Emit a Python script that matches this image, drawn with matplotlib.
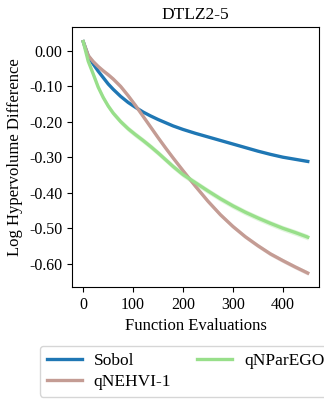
import numpy as np
import matplotlib
matplotlib.use("Agg")
import matplotlib.pyplot as plt

plt.rcParams['font.family'] = ['Liberation Serif', 'DejaVu Serif']
plt.rcParams['axes.unicode_minus'] = False

# evaluations
evals = [0, 10, 20, 30, 40, 50, 60, 75, 90, 105, 120, 135, 150, 165, 180, 200,
         225, 250, 275, 300, 325, 350, 375, 400, 425, 450]

sobol = [0.025, -0.015, -0.038, -0.058, -0.076, -0.094, -0.109, -0.129, -0.146, -0.160,
         -0.173, -0.184, -0.194, -0.203, -0.212, -0.222, -0.233, -0.243, -0.253, -0.263,
         -0.273, -0.283, -0.292, -0.300, -0.306, -0.312]
qnehvi = [0.025, -0.014, -0.031, -0.045, -0.057, -0.068, -0.080, -0.101, -0.127, -0.155,
          -0.185, -0.215, -0.245, -0.274, -0.302, -0.338, -0.382, -0.424, -0.462, -0.495,
          -0.524, -0.549, -0.572, -0.591, -0.609, -0.626]
qnparego = [0.025, -0.030, -0.066, -0.103, -0.132, -0.156, -0.176, -0.200, -0.220, -0.237,
            -0.253, -0.270, -0.288, -0.307, -0.326, -0.349, -0.372, -0.395, -0.417, -0.437,
            -0.455, -0.471, -0.486, -0.500, -0.512, -0.525]

sobol_err = 0.002
qnehvi_err = 0.006
qnparego_err = 0.008

fig = plt.figure(figsize=(3.24, 3.99), dpi=100)
ax = fig.add_axes([72 / 324, 1 - 287 / 399, 247 / 324, 260 / 399])

series = [
    ('Sobol', sobol, sobol_err, '#1f77b4'),
    ('qNEHVI-1', qnehvi, qnehvi_err, '#c49c94'),
    ('qNParEGO', qnparego, qnparego_err, '#98df8a'),
]
x = np.array(evals)
for name, vals, err, col in series:
    v = np.array(vals)
    ax.plot(x, v, color=col, lw=2.4, label=name)
    ax.fill_between(x, v - err, v + err, color=col, alpha=0.3, lw=0)

ax.set_xticks([0, 100, 200, 300, 400])
ax.set_yticks([0.0, -0.1, -0.2, -0.3, -0.4, -0.5, -0.6])
ax.yaxis.set_major_formatter(matplotlib.ticker.FormatStrFormatter('%.2f'))
ax.tick_params(labelsize=11.5)
ax.set_xlabel('Function Evaluations', fontsize=12)
ax.set_ylabel('Log Hypervolume Difference', fontsize=12)
ax.set_title('DTLZ2-5', fontsize=12.5)

handles, labels = ax.get_legend_handles_labels()
fig.legend(handles, labels, loc='upper left', bbox_to_anchor=(40 / 324, 1 - 346 / 399),
           ncol=2, fontsize=12.5, frameon=True, handlelength=2.0, columnspacing=1.5,
           borderaxespad=0, handletextpad=0.7, labelspacing=0.25, borderpad=0.4)

fig.savefig('out.png', dpi=100)
